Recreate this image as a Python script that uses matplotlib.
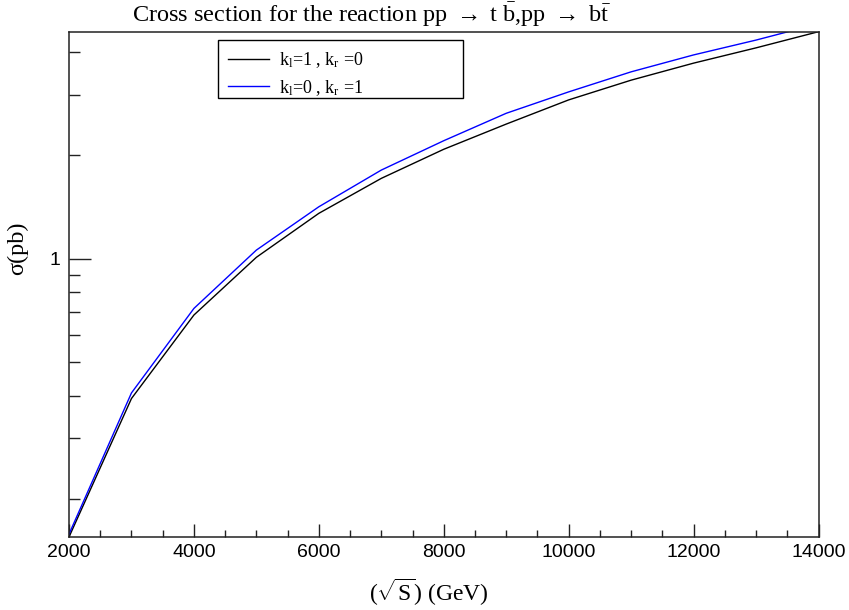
import matplotlib
matplotlib.use("Agg")
import matplotlib.pyplot as plt
from matplotlib.ticker import LogLocator, MultipleLocator, NullFormatter, FixedFormatter, FixedLocator
from matplotlib.patches import Rectangle

plt.rcParams['mathtext.fontset'] = 'custom'
plt.rcParams['mathtext.rm'] = 'Liberation Serif'
plt.rcParams['mathtext.it'] = 'Liberation Serif:italic'

# centre-of-mass energy (GeV)
sqrt_s = [2000, 3000, 4000, 5000, 6000, 7000, 8000, 9000, 10000, 11000, 12000, 13000, 14000]
# cross sections (pb)
xsec_kl1 = [0.155, 0.392, 0.686, 1.01, 1.356, 1.714, 2.083, 2.466, 2.90, 3.31, 3.71, 4.11, 4.58]
xsec_kr1 = [0.158, 0.407, 0.717, 1.06, 1.417, 1.812, 2.206, 2.651, 3.06, 3.50, 3.92, 4.33, 4.83]
labels = [r'k$_{\mathrm{l}}$=1 , k$_{\mathrm{r}}$ =0', r'k$_{\mathrm{l}}$=0 , k$_{\mathrm{r}}$ =1']

fig = plt.figure(figsize=(8.49, 6.10), dpi=100)
ax = fig.add_axes([69/849, 1-537/610, (818.5-69)/849, (537-31.7)/610])

l1, = ax.plot(sqrt_s, xsec_kl1, color='black', lw=1.0)
l2, = ax.plot(sqrt_s, xsec_kr1, color='#0000ff', lw=1.0)

ax.set_yscale('log')
ax.set_xlim(sqrt_s[0], sqrt_s[-1])
ax.set_ylim(xsec_kl1[0], xsec_kl1[-1])

for s in ax.spines.values():
    s.set_linewidth(1.1)
    s.set_color('#222222')

ax.xaxis.set_major_locator(MultipleLocator(2000))
ax.xaxis.set_minor_locator(MultipleLocator(500))
ax.yaxis.set_major_locator(FixedLocator([1.0]))
ax.yaxis.set_major_formatter(FixedFormatter(['1']))
ax.yaxis.set_minor_locator(LogLocator(base=10, subs=range(2, 10)))
ax.yaxis.set_minor_formatter(NullFormatter())

ax.tick_params(which='both', direction='in', top=False, right=False,
               labelsize=14, width=1.0, color='#222222')
ax.tick_params(axis='x', which='major', length=9.4, pad=5)
ax.tick_params(axis='x', which='minor', length=4.7)
ax.tick_params(axis='y', which='major', length=15.8, pad=6)
ax.tick_params(axis='y', which='minor', length=7.9)
for t in ax.get_xticklabels() + ax.get_yticklabels():
    t.set_fontfamily('Liberation Sans')

ax.set_xlabel(r'($\sqrt{\mathrm{S}}$) (GeV)', fontsize=17, family='Liberation Serif')
ax.xaxis.set_label_coords((429-69)/749.5, -(592-537)/505.3)
ax.xaxis.label.set_va('center')
ax.set_ylabel('σ(pb)', fontsize=17.5, family='Liberation Serif')
ax.yaxis.set_label_coords(-(69-18)/749.5, (537-248)/505.3)
ax.yaxis.label.set_va('center')

fig.text(371.5/849, 1-22/610,
         r'Cross section for the reaction pp $\rightarrow$ t $\mathrm{\bar{b}}$,pp $\rightarrow$ b$\mathrm{\bar{t}}$',
         fontsize=17.5, family='Liberation Serif', ha='center', va='baseline')

# legend box
bx0, bx1, by0, by1 = 218, 463, 40, 98
ax.add_patch(Rectangle(((bx0-69)/749.5, (537-by1)/505.3), (bx1-bx0)/749.5, (by1-by0)/505.3,
                       transform=ax.transAxes, fill=True, facecolor='white',
                       edgecolor='black', lw=1.0, zorder=5))
leg = ax.legend([l1, l2], labels, loc='upper left', frameon=False,
                bbox_to_anchor=((bx0-69)/749.5, (537-by0)/505.3),
                prop={'family': 'Liberation Serif', 'size': 13},
                handlelength=2.3, handletextpad=0.55, labelspacing=0.45,
                borderpad=0.3, borderaxespad=0.25)
leg.set_zorder(6)

fig.savefig('out.png', dpi=100)
